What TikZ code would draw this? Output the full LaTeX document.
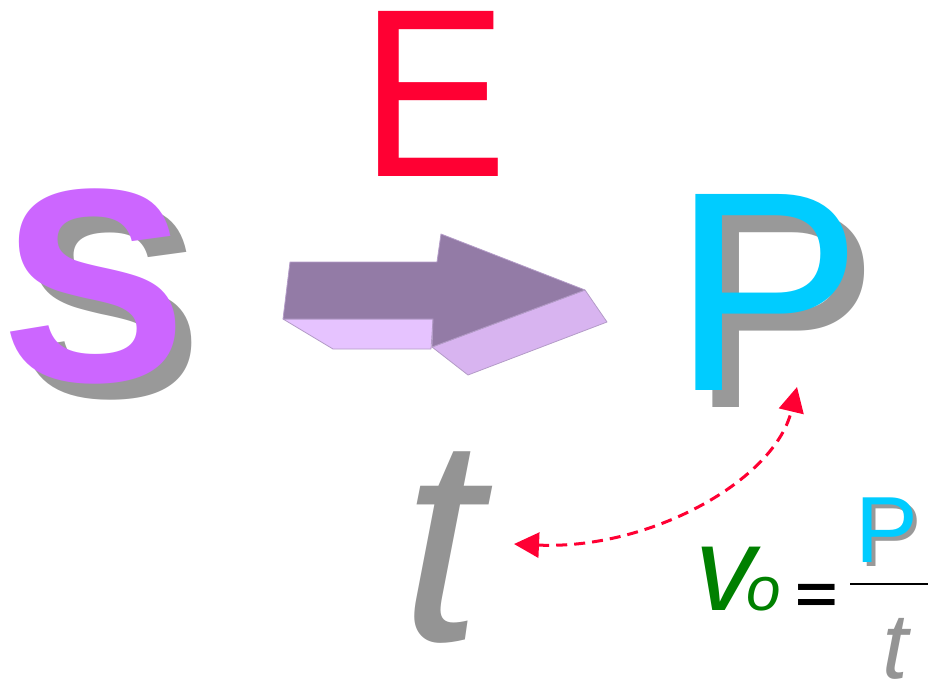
\documentclass[tikz,border=0pt]{standalone}
\usepackage{fontspec}
\setmainfont{Liberation Sans}
\usepackage{graphicx}
\usepackage{tikz}
\usetikzlibrary{arrows.meta,positioning}
\definecolor{sPurple}{HTML}{CC66FF}
\definecolor{eRed}{HTML}{FF0033}
\definecolor{pCyan}{HTML}{00CCFF}
\definecolor{shGray}{HTML}{999999}
\definecolor{tGray}{HTML}{949494}
\definecolor{vGreen}{HTML}{008000}
\definecolor{arTop}{HTML}{937BA6}
\definecolor{arEdge}{HTML}{B49CC8}
\definecolor{arSide}{HTML}{E6C3FF}
\definecolor{arHead}{HTML}{D8B4F0}
\begin{document}
\begin{tikzpicture}[x=1pt,y=-1pt,
  glyph/.style={inner sep=0pt,anchor=base,font=\fontsize{#1}{#1}\selectfont},
  heavy/.style={inner sep=0pt,anchor=base,font=\fontsize{#1}{#1}\selectfont\bfseries},
  slant/.style={inner sep=0pt,anchor=base,font=\fontsize{#1}{#1}\selectfont\itshape},
  shade/.style={text=shGray},
  face/.style={line join=round,draw=arEdge,line width=0.8pt},
  link/.style={{Triangle[length=25pt,width=25pt]}-{Triangle[length=25pt,width=25pt]},
               color=eRed,line width=3pt,dash pattern=on 11pt off 7pt}
]
\useasboundingbox (0,0) rectangle (928,681);
\node[heavy=276pt,shade]          (Ssh) at (111,397) {S};
\node[heavy=276pt,text=sPurple]   (S)   at (95,381)  {S};
\node[glyph=240pt,text=eRed]      (E)   at (434,176) {\scalebox{0.92}[1]{E}};
\node[glyph=285pt,shade]          (Psh) at (785,407) {P};
\node[glyph=285pt,text=pCyan]     (P)   at (768,390) {P};
\node[slant=292pt,text=tGray]     (t)   at (442,640) {t};
\fill[face,fill=arSide] (283,319) -- (433,319) -- (431,349) -- (333,349) -- cycle;
\fill[face,fill=arHead] (432,347) -- (585,290) -- (607,322) -- (468,375) -- cycle;
\filldraw[face,fill=arTop] (290,262) -- (437,262) -- (441,234) -- (585,290)
  -- (432,347) -- (433,319) -- (283,319) -- cycle;
\coordinate (tEnd) at (514,544);
\coordinate (pEnd) at (797,387);
\draw[link] (tEnd) .. controls (650,550) and (775,480) .. (pEnd);
\node[slant=120pt,text=vGreen]    (v)    at (725,610) {v};
\node[slant=62pt,text=vGreen]     (sub)  at (764,610) {o};
\node[heavy=56pt] (eq) at (817,613) {\scalebox{1.3}[1]{=}};
\coordinate (fracL) at (850,584);
\coordinate (fracR) at (928,584);
\draw[line width=2.5pt] (fracL) -- (fracR);
\node[glyph=94pt,shade]           (Pnsh) at (891,566) {P};
\node[glyph=94pt,text=pCyan]      (Pnum) at (887,562) {P};
\node[slant=93pt,text=tGray]      (tden) at (895,678) {t};
\end{tikzpicture}
\end{document}
